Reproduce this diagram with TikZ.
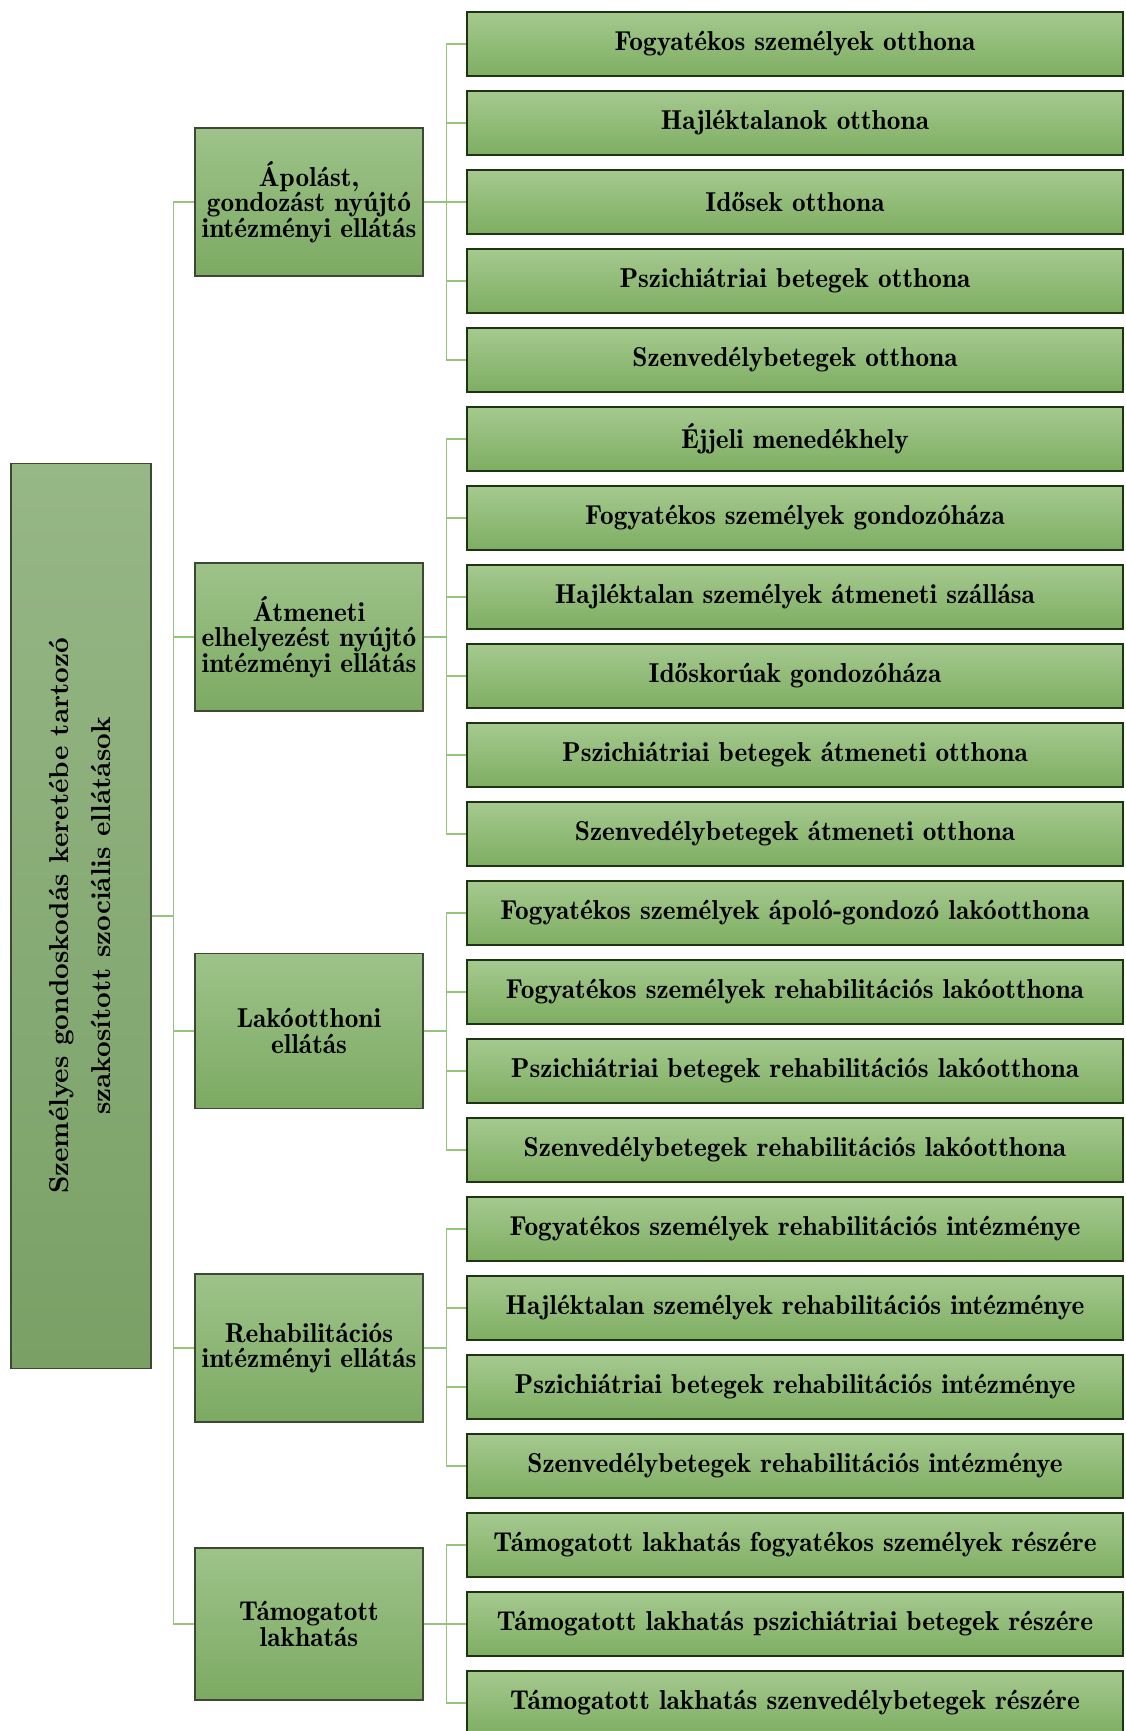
\documentclass[tikz,border=0pt]{standalone}
\usepackage{tikz}
\usetikzlibrary{arrows.meta}
\usepackage{color}
\usepackage{fontspec}
\newfontfamily\demifont{lmromandemi10-regular.otf}
\newfontfamily\rootfont{lmroman10-bold.otf}

\definecolor{leaftop}{RGB}{165,201,143}
\definecolor{leafbot}{RGB}{126,174,98}
\definecolor{leafedge}{RGB}{28,52,18}
\definecolor{midtop}{RGB}{158,195,138}
\definecolor{midbot}{RGB}{124,170,98}
\definecolor{midedge}{RGB}{60,72,52}
\definecolor{roottop}{RGB}{150,183,134}
\definecolor{rootbot}{RGB}{122,160,102}
\definecolor{connline}{RGB}{150,196,126}

\tikzset{
    leafbox/.style={draw=leafedge, line width=1.9pt, top color=leaftop, bottom color=leafbot,
        minimum width=492pt, minimum height=48pt, inner sep=0pt,
        font=\demifont\fontsize{20.5}{22}\selectfont},
    midbox/.style={draw=midedge, line width=0.8pt, top color=midtop, bottom color=midbot,
        minimum width=171pt, minimum height=111pt, inner sep=1pt, align=center,
        font=\demifont\fontsize{20.5}{19}\selectfont},
    rootbox/.style={draw=midedge, line width=0.8pt, top color=roottop, bottom color=rootbot,
        minimum width=105pt, minimum height=679pt, inner sep=0pt},
    conn/.style={draw=connline, line width=1.3pt}
}

\begin{document}
\begin{tikzpicture}[x=0.75pt, y=-0.75pt]
        \useasboundingbox (0,0) rectangle (1125,1731);

        % root
        \node[rootbox] (A) at (81,916) {\rotatebox{90}{\rootfont\fontsize{20.5}{31.5}\selectfont
            \begin{tabular}{@{}c@{}}Személyes gondoskodás keretébe tartozó\\ szakosított szociális ellátások\end{tabular}}};

        % middle level
        \node[midbox] (B) at (309,202)  {Ápolást,\\ gondozást nyújtó\\ intézményi ellátás};
        \node[midbox] (C) at (309,637)  {Átmeneti\\ elhelyezést nyújtó\\ intézményi ellátás};
        \node[midbox, minimum height=116pt] (D) at (309,1031) {Lakóotthoni\\ ellátás};
        \node[midbox] (E) at (309,1348) {Rehabilitációs\\ intézményi ellátás};
        \node[midbox, minimum height=114pt] (F) at (309,1624) {Támogatott\\ lakhatás};

        % leaves
        \node[leafbox] (B1) at (795,44)   {Fogyatékos személyek otthona};
        \node[leafbox] (B2) at (795,123)  {Hajléktalanok otthona};
        \node[leafbox] (B3) at (795,202)  {Idősek otthona};
        \node[leafbox] (B4) at (795,281)  {Pszichiátriai betegek otthona};
        \node[leafbox] (B5) at (795,360)  {Szenvedélybetegek otthona};
        \node[leafbox] (C1) at (795,439)  {Éjjeli menedékhely};
        \node[leafbox] (C2) at (795,518)  {Fogyatékos személyek gondozóháza};
        \node[leafbox] (C3) at (795,597)  {Hajléktalan személyek átmeneti szállása};
        \node[leafbox] (C4) at (795,676)  {Időskorúak gondozóháza};
        \node[leafbox] (C5) at (795,755)  {Pszichiátriai betegek átmeneti otthona};
        \node[leafbox] (C6) at (795,834)  {Szenvedélybetegek átmeneti otthona};
        \node[leafbox] (D1) at (795,913)  {Fogyatékos személyek ápoló-gondozó lakóotthona};
        \node[leafbox] (D2) at (795,992)  {Fogyatékos személyek rehabilitációs lakóotthona};
        \node[leafbox] (D3) at (795,1071) {Pszichiátriai betegek rehabilitációs lakóotthona};
        \node[leafbox] (D4) at (795,1150) {Szenvedélybetegek rehabilitációs lakóotthona};
        \node[leafbox] (E1) at (795,1229) {Fogyatékos személyek rehabilitációs intézménye};
        \node[leafbox] (E2) at (795,1308) {Hajléktalan személyek rehabilitációs intézménye};
        \node[leafbox] (E3) at (795,1387) {Pszichiátriai betegek rehabilitációs intézménye};
        \node[leafbox] (E4) at (795,1466) {Szenvedélybetegek rehabilitációs intézménye};
        \node[leafbox] (F1) at (795,1545) {Támogatott lakhatás fogyatékos személyek részére};
        \node[leafbox] (F2) at (795,1624) {Támogatott lakhatás pszichiátriai betegek részére};
        \node[leafbox] (F3) at (795,1703) {Támogatott lakhatás szenvedélybetegek részére};

        % trunk
        \draw[conn] (A.east) -- ++(22,0) |- (B.west);
        \draw[conn] (A.east) -- ++(22,0) |- (C.west);
        \draw[conn] (A.east) -- ++(22,0) |- (D.west);
        \draw[conn] (A.east) -- ++(22,0) |- (E.west);
        \draw[conn] (A.east) -- ++(22,0) |- (F.west);

        % branches
        \draw[conn] (B.east) -- ++(23,0) |- (B1.west);
        \draw[conn] (B.east) -- ++(23,0) |- (B2.west);
        \draw[conn] (B.east) -- ++(23,0) |- (B3.west);
        \draw[conn] (B.east) -- ++(23,0) |- (B4.west);
        \draw[conn] (B.east) -- ++(23,0) |- (B5.west);

        \draw[conn] (C.east) -- ++(23,0) |- (C1.west);
        \draw[conn] (C.east) -- ++(23,0) |- (C2.west);
        \draw[conn] (C.east) -- ++(23,0) |- (C3.west);
        \draw[conn] (C.east) -- ++(23,0) |- (C4.west);
        \draw[conn] (C.east) -- ++(23,0) |- (C5.west);
        \draw[conn] (C.east) -- ++(23,0) |- (C6.west);

        \draw[conn] (D.east) -- ++(23,0) |- (D1.west);
        \draw[conn] (D.east) -- ++(23,0) |- (D2.west);
        \draw[conn] (D.east) -- ++(23,0) |- (D3.west);
        \draw[conn] (D.east) -- ++(23,0) |- (D4.west);

        \draw[conn] (E.east) -- ++(23,0) |- (E1.west);
        \draw[conn] (E.east) -- ++(23,0) |- (E2.west);
        \draw[conn] (E.east) -- ++(23,0) |- (E3.west);
        \draw[conn] (E.east) -- ++(23,0) |- (E4.west);

        \draw[conn] (F.east) -- ++(23,0) |- (F1.west);
        \draw[conn] (F.east) -- ++(23,0) |- (F2.west);
        \draw[conn] (F.east) -- ++(23,0) |- (F3.west);
    \end{tikzpicture}
\end{document}
